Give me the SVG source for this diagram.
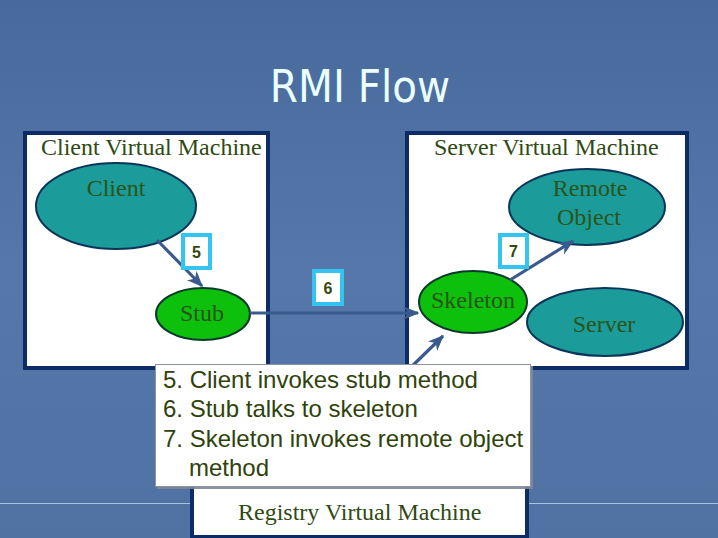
<svg xmlns="http://www.w3.org/2000/svg" width="718" height="538" viewBox="0 0 718 538">
<defs>
<linearGradient id="bg" x1="0" y1="0" x2="0" y2="1">
<stop offset="0" stop-color="#47699c"/>
<stop offset="0.5" stop-color="#5677a9"/>
<stop offset="1" stop-color="#5072a3"/>
</linearGradient>
<marker id="ah" viewBox="0 0 12 10" refX="11" refY="5" markerWidth="5" markerHeight="4.5" orient="auto" markerUnits="strokeWidth">
<path d="M0,0 L12,5 L0,10 L3.5,5 Z" fill="#3a5a8e"/>
</marker>
<filter id="sh" x="-5%" y="-5%" width="110%" height="115%">
<feDropShadow dx="2" dy="2" stdDeviation="0.6" flood-color="#7f8794" flood-opacity="0.9"/>
</filter>
</defs>
<style>
.vm{fill:#ffffff;stroke:#0d2c66;stroke-width:4}
.vmt{font-family:"Liberation Serif","Times New Roman",serif;font-size:24px;fill:#2f4a12}
.nt{font-family:"Liberation Serif","Times New Roman",serif;font-size:24px;fill:#2a5418;text-anchor:middle}
.teal{fill:#1c9b9b;stroke:#0b3558;stroke-width:2}
.green{fill:#0cc00c;stroke:#0b3a2a;stroke-width:2}
.conn{stroke:#3a5a8e;stroke-width:3.2;fill:none;marker-end:url(#ah)}
.lb{fill:#ffffff;stroke:#33c4f0;stroke-width:4}
.lbt{font-family:"Liberation Sans",Arial,sans-serif;font-size:16px;font-weight:bold;fill:#34460c;text-anchor:middle}
.bt{font-family:"Liberation Sans",Arial,sans-serif;font-size:24px;fill:#2f420c}
</style>
<rect width="718" height="538" fill="url(#bg)"/>
<line x1="0" y1="503.5" x2="718" y2="503.5" stroke="#a9c2e2" stroke-width="1.2"/>
<text x="360" y="102" text-anchor="middle" font-family="'DejaVu Sans Condensed','DejaVu Sans',sans-serif" font-stretch="condensed" font-size="45" fill="#eaffff">RMI Flow</text>

<g id="client-vm">
<rect class="vm" x="25" y="133" width="243" height="235"/>
<text class="vmt" x="41" y="155">Client Virtual Machine</text>
</g>
<g id="server-vm">
<rect class="vm" x="407" y="133" width="280" height="235"/>
<text class="vmt" x="434" y="155">Server Virtual Machine</text>
</g>
<g id="registry-vm">
<rect class="vm" x="192" y="420" width="335" height="117"/>
<text class="vmt" x="238" y="520">Registry Virtual Machine</text>
</g>

<g id="client">
<ellipse class="teal" cx="116" cy="206" rx="80" ry="43"/>
<text class="nt" x="116" y="196">Client</text>
</g>
<g id="stub">
<ellipse class="green" cx="203" cy="314" rx="47" ry="26"/>
<text class="nt" x="202" y="321">Stub</text>
</g>
<g id="skeleton">
<ellipse class="green" cx="473" cy="302" rx="54" ry="31"/>
<text class="nt" x="473" y="308">Skeleton</text>
</g>
<g id="remote-object">
<ellipse class="teal" cx="587" cy="207" rx="78" ry="38"/>
<text class="nt" x="590" y="196">Remote</text>
<text class="nt" x="589" y="225">Object</text>
</g>
<g id="server">
<ellipse class="teal" cx="605" cy="322" rx="78" ry="34"/>
<text class="nt" x="604" y="332">Server</text>
</g>

<g id="connectors">
<line class="conn" x1="157" y1="240" x2="202" y2="286"/>
<line class="conn" x1="250" y1="313" x2="418" y2="313"/>
<line class="conn" x1="510" y1="280" x2="573" y2="241"/>
<line class="conn" x1="404" y1="374" x2="443" y2="336"/>
</g>

<g id="label-5">
<rect class="lb" x="183" y="235" width="27" height="33"/>
<text class="lbt" x="196.5" y="258">5</text>
</g>
<g id="label-6">
<rect class="lb" x="314" y="271" width="28" height="33"/>
<text class="lbt" x="328" y="294">6</text>
</g>
<g id="label-7">
<rect class="lb" x="500" y="235" width="27" height="32"/>
<text class="lbt" x="513.5" y="257">7</text>
</g>

<g id="legend">
<rect x="155.5" y="364.5" width="375" height="122" fill="#ffffff" stroke="#8a94a4" stroke-width="1" filter="url(#sh)"/>
<text class="bt" x="163" y="388">5. Client invokes stub method</text>
<text class="bt" x="163" y="417">6. Stub talks to skeleton</text>
<text class="bt" x="163" y="447">7. Skeleton invokes remote object</text>
<text class="bt" x="189" y="476">method</text>
</g>
</svg>
